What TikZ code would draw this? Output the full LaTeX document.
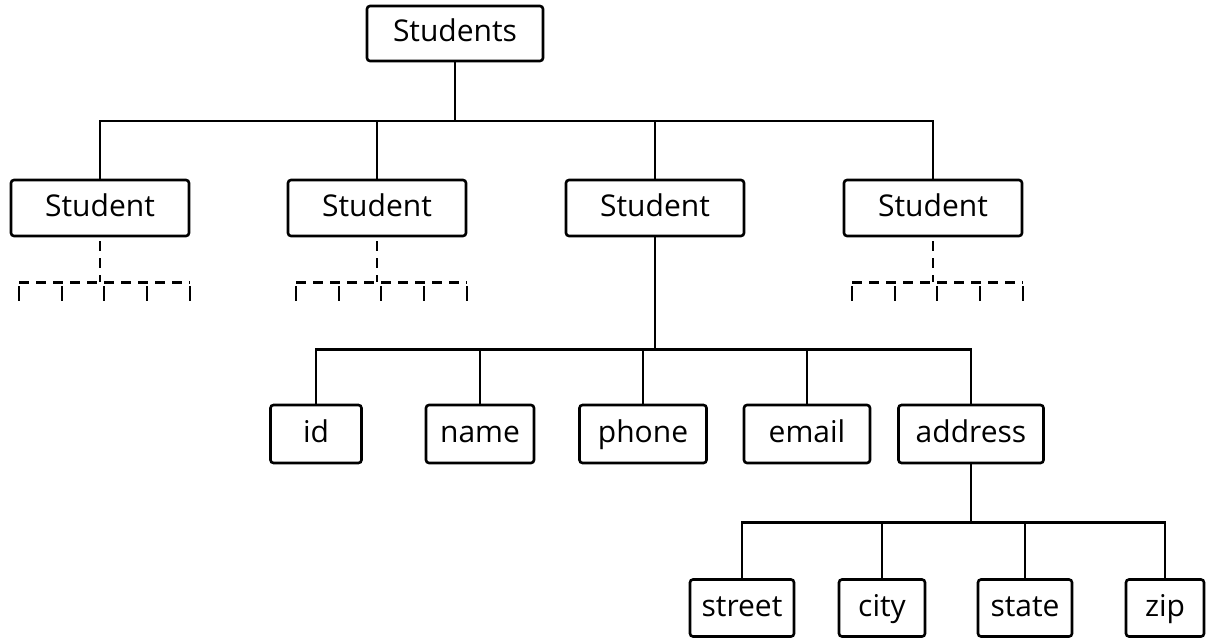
\documentclass[tikz,border=0pt]{standalone}
\usepackage{fontspec}
\setmainfont{Open Sans}
\usepackage{tikz}
\usetikzlibrary{calc}

\begin{document}
\begin{tikzpicture}[
    x=0.5pt, y=-0.5pt,
    box/.style={draw, line width=1.3pt, rounded corners=1.5pt, minimum height=28pt, inner sep=0pt, text height=11pt, text depth=3pt, font=\fontsize{15pt}{18pt}\selectfont},
    field/.style={box, minimum height=29pt},
    leaf/.style={box, minimum height=28.5pt},
    link/.style={draw, line width=1.2pt},
    dlink/.style={link, dash pattern=on 5pt off 3.5pt},
]
\useasboundingbox (0,0) rectangle (1215,642);

% Root
\node[box, minimum width=88pt, minimum height=27.5pt] (students) at (455,33.5) {Students};

% Student records
\node[box, minimum width=89pt] (s1) at (100,208) {Student};
\node[box, minimum width=89pt] (s2) at (377,208) {Student};
\node[box, minimum width=89pt] (s3) at (655,208) {Student};
\node[box, minimum width=89pt] (s4) at (933,208) {Student};

% Fields of one student
\node[field, minimum width=45.5pt] (id) at (316,434) {id};
\node[field, minimum width=54pt] (name) at (480,434) {name};
\node[field, minimum width=63.5pt] (phone) at (643,434) {phone};
\node[field, minimum width=63pt] (email) at (807,434) {email};
\node[field, minimum width=72.5pt] (addr) at (971,434) {address};

% Parts of the address
\node[leaf, minimum width=52pt] (street) at (742,608) {street};
\node[leaf, minimum width=43pt] (city) at (882,608) {city};
\node[leaf, minimum width=47pt] (state) at (1025,608) {state};
\node[leaf, minimum width=39pt] (zip) at (1165,608) {zip};

% Root -> students
\foreach \s in {s1,s2,s3,s4}
  \draw[link] (students.south) -- ++(0,59) -| (\s.north);

% Student -> fields
\foreach \f in {id,name,phone,email,addr}
  \draw[link] (s3.south) -- ++(0,112) -| (\f.north);

% Address -> parts
\foreach \p in {street,city,state,zip}
  \draw[link] (addr.south) -- ++(0,58) -| (\p.north);

% Collapsed students (dashed)
\foreach \s in {s1,s2,s4}{
  \draw[dlink] (\s.south) ++(0,4) -- ++(0,41) coordinate (\s-j);
  \draw[dlink] ($(\s-j)+(-81,0)$) -- ($(\s-j)+(90,0)$);
  \foreach \dx in {-81,-38,4,47,90}
    \draw[link] ($(\s-j)+(\dx,4)$) -- ++(0,15);
}

\end{tikzpicture}
\end{document}
